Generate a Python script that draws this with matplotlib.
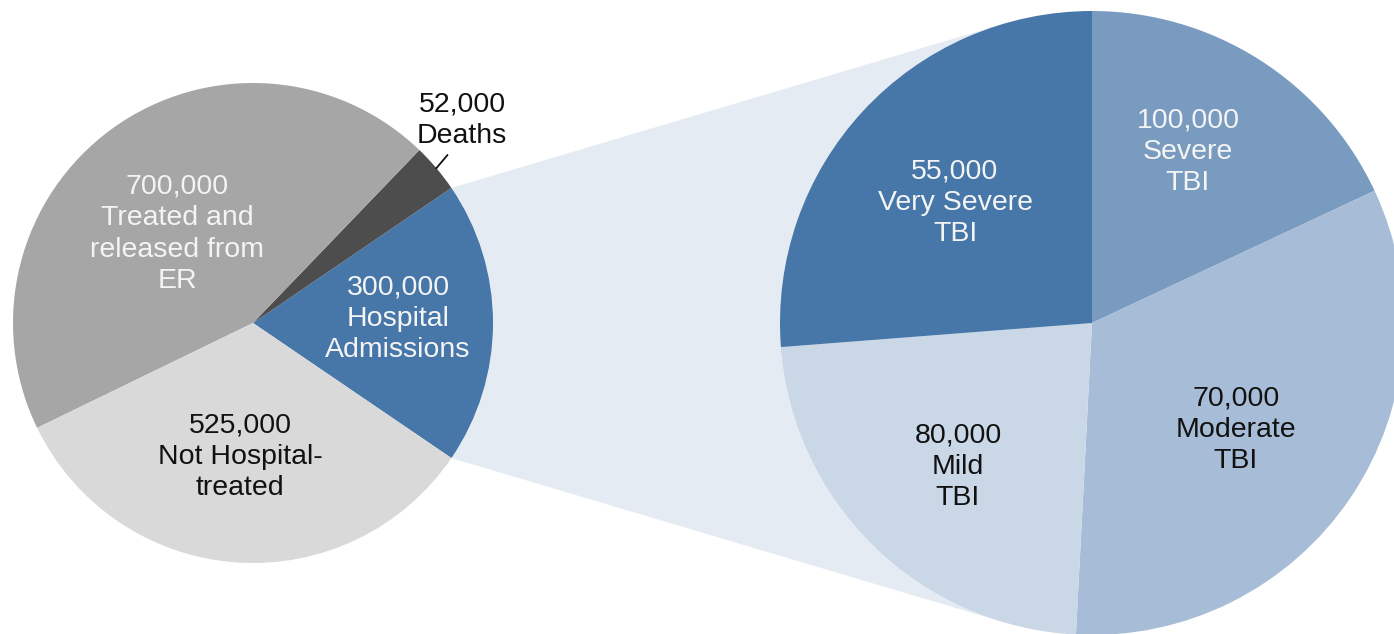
import numpy as np
import matplotlib
matplotlib.use("Agg")
from matplotlib import pyplot as plt
from matplotlib.patches import Polygon

# left pie: all TBI outcomes (counter-clockwise from the hospital slice)
outcome_labels = ["Hospital\nAdmissions", "Deaths", "Treated and\nreleased from\nER", "Not Hospital-\ntreated"]
outcome_values = [300000, 52000, 700000, 525000]
outcome_colors = ["#4677a8", "#4d4d4d", "#a6a6a6", "#d9d9d9"]

# right pie: hospital admissions by severity (clockwise from 12 o'clock)
tbi_labels = ["Very Severe\nTBI", "Severe\nTBI", "Moderate\nTBI", "Mild\nTBI"]
tbi_values = [55000, 100000, 70000, 80000]
# in the source chart each wedge carries the text of the next category
wedge_colors = ["#7a9bc0", "#a7bcd6", "#c9d7e7", "#4677a8"]

W, H = 1394, 634
fig = plt.figure(figsize=(W / 100, H / 100), dpi=100)
ax = fig.add_axes([0, 0, 1, 1])

FONT = "Liberation Sans"
FS = 20.5
LS = 1.27

# ---- left pie
c1, r1 = np.array([253.0, H - 323.0]), 240.0
start = -360 * outcome_values[0] / sum(outcome_values) / 2
w1, _ = ax.pie(outcome_values, colors=outcome_colors, startangle=start,
               center=c1, radius=r1, counterclock=True,
               wedgeprops=dict(linewidth=0), frame=True)

# ---- right pie
c2, r2 = np.array([1092.0, H - 323.0]), 312.0
w2, _ = ax.pie(tbi_values, colors=wedge_colors, startangle=90,
               center=c2, radius=r2, counterclock=False,
               wedgeprops=dict(linewidth=0), frame=True)
for w in w1 + w2:
    w.set_zorder(2)


def tangent(p, c, r, sign):
    d = c - p
    dist = np.hypot(*d)
    ang = np.arctan2(d[1], d[0]) + sign * np.arcsin(r / dist)
    L = np.sqrt(dist ** 2 - r ** 2)
    return p + L * np.array([np.cos(ang), np.sin(ang)])


# light band joining the hospital slice to the breakdown pie
hosp = w1[0]
a_lo, a_hi = np.radians(hosp.theta1), np.radians(hosp.theta2)
p_hi = c1 + r1 * np.array([np.cos(a_hi), np.sin(a_hi)])
p_lo = c1 + r1 * np.array([np.cos(a_lo), np.sin(a_lo)])
band = Polygon([p_hi, tangent(p_hi, c2, r2, 1), c2, tangent(p_lo, c2, r2, -1), p_lo],
               closed=True, facecolor="#e5ebf3", edgecolor="none", zorder=1)
ax.add_patch(band)


def mid(w):
    return np.radians((w.theta1 + w.theta2) / 2)


# left labels
left_pos = [(398, 319), None, (177, 234), (240, 457)]
left_txtcol = ["#f4f4f4", None, "#f4f4f4", "#111111"]
for i, (lab, val) in enumerate(zip(outcome_labels, outcome_values)):
    if left_pos[i] is None:
        continue
    x, y = left_pos[i]
    ax.text(x, H - y, f"{val:,}\n{lab}", ha="center", va="center", color=left_txtcol[i],
            fontsize=FS, family=FONT, linespacing=LS, zorder=3)

# deaths label sits outside with a short leader line
a = mid(w1[1])
p0 = c1 + r1 * np.array([np.cos(a), np.sin(a)])
ax.plot([p0[0], p0[0] + 11], [p0[1], p0[1] + 13], color="#111111", lw=1.3, zorder=3)
ax.text(462, H - 120, f"{outcome_values[1]:,}\n{outcome_labels[1]}", ha="center", va="center",
        color="#111111", fontsize=FS, family=FONT, linespacing=LS, zorder=3)

# right labels (shifted by one category, as in the source)
right_pos = [(1188, 152), (1236, 430), (958, 467), (955, 203)]
right_txtcol = ["#f4f4f4", "#111111", "#111111", "#f4f4f4"]
for i in range(len(tbi_values)):
    j = (i + 1) % len(tbi_values)
    x, y = right_pos[i]
    ax.text(x, H - y, f"{tbi_values[j]:,}\n{tbi_labels[j]}", ha="center", va="center",
            color=right_txtcol[i], fontsize=FS, family=FONT, linespacing=LS, zorder=3)

ax.set_xlim(0, W)
ax.set_ylim(0, H)
ax.set_aspect("auto")
ax.axis("off")

fig.savefig("out.png", dpi=100, facecolor="white")
